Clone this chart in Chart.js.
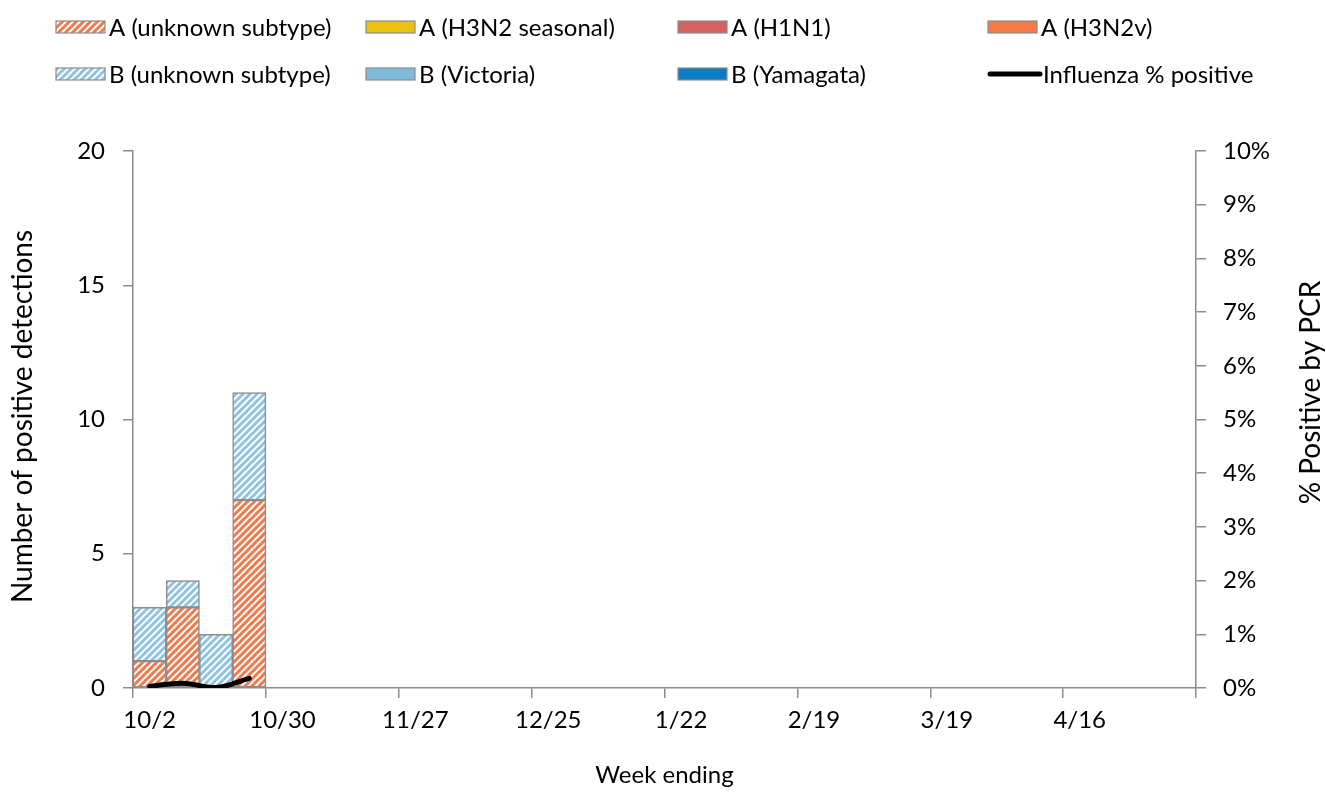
<!DOCTYPE html>
<html><head><meta charset="utf-8">
<script src="https://cdn.jsdelivr.net/npm/chart.js@4.4.1/dist/chart.umd.min.js"></script>
<style>html,body{margin:0;padding:0;background:#fff;}#wrap{width:1326px;height:796px;position:relative;}</style>
</head><body><div id="wrap"><canvas id="c"></canvas></div>
<script>
const weeks = ['10/2','10/9','10/16','10/23','10/30','11/6','11/13','11/20','11/27','12/4','12/11','12/18','12/25','1/1','1/8','1/15','1/22','1/29','2/5','2/12','2/19','2/26','3/5','3/12','3/19','3/26','4/2','4/9','4/16','4/23','4/30','5/7'];
const N = null;
const aUnknown   = [1,3,0,7, N,N,N,N,N,N,N,N,N,N,N,N,N,N,N,N,N,N,N,N,N,N,N,N,N,N,N,N];
const aH3N2      = [0,0,0,0, N,N,N,N,N,N,N,N,N,N,N,N,N,N,N,N,N,N,N,N,N,N,N,N,N,N,N,N];
const aH1N1      = [0,0,0,0, N,N,N,N,N,N,N,N,N,N,N,N,N,N,N,N,N,N,N,N,N,N,N,N,N,N,N,N];
const aH3N2v     = [0,0,0,0, N,N,N,N,N,N,N,N,N,N,N,N,N,N,N,N,N,N,N,N,N,N,N,N,N,N,N,N];
const bUnknown   = [2,1,2,4, N,N,N,N,N,N,N,N,N,N,N,N,N,N,N,N,N,N,N,N,N,N,N,N,N,N,N,N];
const bVictoria  = [0,0,0,0, N,N,N,N,N,N,N,N,N,N,N,N,N,N,N,N,N,N,N,N,N,N,N,N,N,N,N,N];
const bYamagata  = [0,0,0,0, N,N,N,N,N,N,N,N,N,N,N,N,N,N,N,N,N,N,N,N,N,N,N,N,N,N,N,N];
const pctPositive = [0.03,0.09,0.01,0.18, N,N,N,N,N,N,N,N,N,N,N,N,N,N,N,N,N,N,N,N,N,N,N,N,N,N,N,N];
const leftTicks = [0,5,10,15,20];
const rightTicks = [0,1,2,3,4,5,6,7,8,9,10];
const leftTitle = 'Number of positive detections';
const rightTitle = '% Positive by PCR';

const FONT = 'Lato';
const GRAY = '#8c8c8c';

function hatch(color){
  const s=7; const c=document.createElement('canvas'); c.width=s; c.height=s;
  const g=c.getContext('2d');
  g.fillStyle='#fff'; g.fillRect(0,0,s,s);
  g.strokeStyle=color; g.lineWidth=3; g.lineCap='square';
  g.beginPath();
  g.moveTo(-3,s+3); g.lineTo(s+3,-3);
  g.moveTo(-3,3); g.lineTo(3,-3);
  g.moveTo(s-3,s+3); g.lineTo(s+3,s-3);
  g.stroke();
  return g.createPattern(c,'repeat');
}
const orangeHatch = hatch('#f4794a');
const blueHatch = hatch('#8ec3e1');

function bar(label, data, fill){
  return {type:'bar', label, data, backgroundColor: fill, borderColor: GRAY, borderWidth: 1.5,
    borderSkipped:false, barPercentage:1, categoryPercentage:1, yAxisID:'y', stack:'s', order:1};
}

const datasets = [
  bar('A (unknown subtype)', aUnknown, orangeHatch),
  bar('A (H3N2 seasonal)', aH3N2, '#e9c10e'),
  bar('A (H1N1)', aH1N1, '#d65f61'),
  bar('A (H3N2v)', aH3N2v, '#f47a48'),
  bar('B (unknown subtype)', bUnknown, blueHatch),
  bar('B (Victoria)', bVictoria, '#80badb'),
  bar('B (Yamagata)', bYamagata, '#0b7bc3'),
  {type:'line', label:'Influenza % positive', data: pctPositive, yAxisID:'y2', borderColor:'#000',
   borderWidth:5, pointRadius:0, tension:0.4, borderCapStyle:'round', order:0, spanGaps:false}
];

const legendPlugin = {
  id:'customLegend',
  afterDraw(chart){
    const ctx = chart.ctx;
    const cols = [56, 366, 678, 988];
    const rows = [27, 74];
    ctx.save();
    ctx.font = '24px ' + FONT;
    ctx.textBaseline = 'middle';
    ctx.fillStyle = '#000';
    chart.data.datasets.forEach((ds, i) => {
      const x = cols[i % 4], y = rows[Math.floor(i / 4)];
      if (ds.type === 'line') {
        ctx.strokeStyle = '#000'; ctx.lineWidth = 5; ctx.lineCap = 'round';
        ctx.beginPath(); ctx.moveTo(x + 2, y); ctx.lineTo(x + 52, y); ctx.stroke();
        ctx.fillStyle = '#000';
        ctx.fillText(ds.label, x + 55, y + 1);
      } else {
        ctx.fillStyle = ds.backgroundColor;
        ctx.fillRect(x, y - 6, 49, 12);
        ctx.strokeStyle = GRAY; ctx.lineWidth = 1.2;
        ctx.strokeRect(x, y - 6, 49, 12);
        ctx.fillStyle = '#000';
        ctx.fillText(ds.label, x + 53, y + 1);
      }
    });
    // vertical axis titles, both reading bottom-to-top
    const ca = chart.chartArea;
    ctx.font = '28px ' + FONT;
    ctx.textAlign = 'center';
    ctx.fillStyle = '#000';
    ctx.save();
    ctx.translate(23, (ca.top + ca.bottom) / 2 - 3);
    ctx.rotate(-Math.PI / 2);
    ctx.fillText(leftTitle, 0, 0);
    ctx.restore();
    ctx.save();
    ctx.translate(1311, (ca.top + ca.bottom) / 2 - 27);
    ctx.rotate(-Math.PI / 2);
    ctx.fillText(rightTitle, 0, 0);
    ctx.restore();
    ctx.restore();
  }
};

new Chart(document.getElementById('c'), {
  data: { labels: weeks, datasets },
  plugins: [legendPlugin],
  options: {
    responsive: true, maintainAspectRatio: false, animation: false,
    layout: { padding: { top: 151, left: 0, right: 0, bottom: 0 } },
    plugins: { legend: { display: false }, tooltip: { enabled: false } },
    scales: {
      x: {
        type: 'category', offset: true, stacked: true,
        afterFit: s => { s.height = 108; },
        grid: { offset: true, drawOnChartArea: false, drawTicks: true, tickLength: 10, lineWidth: 1.5,
          color: ctx => (ctx.type !== 'tick' || ctx.index % 4 === 0) ? GRAY : 'rgba(0,0,0,0)' },
        border: { display: true, color: GRAY, width: 1.5 },
        ticks: { autoSkip: false, maxRotation: 0, minRotation: 0, padding: 8, color: '#000',
          font: { family: FONT, size: 24 },
          callback: function(v, i){ return i % 4 === 0 ? this.getLabelForValue(v) : ''; } },
        title: { display: true, text: 'Week ending', color: '#000', font: { family: FONT, size: 24 }, padding: { top: 0, bottom: 6 } }
      },
      y: {
        position: 'left', stacked: true, min: 0, max: 20,
        afterFit: s => { s.width = 133; },
        afterBuildTicks: s => { s.ticks = leftTicks.map(v => ({ value: v })); },
        grid: { drawOnChartArea: false, drawTicks: true, tickLength: 10, color: GRAY, lineWidth: 1.5 },
        border: { display: true, color: GRAY, width: 1.5 },
        ticks: { padding: 18, color: '#000', font: { family: FONT, size: 24 } },
        title: { display: false }
      },
      y2: {
        position: 'right', min: 0, max: 10,
        afterFit: s => { s.width = 130; },
        afterBuildTicks: s => { s.ticks = rightTicks.map(v => ({ value: v })); },
        grid: { drawOnChartArea: false, drawTicks: true, tickLength: 10, color: GRAY, lineWidth: 1.5 },
        border: { display: true, color: GRAY, width: 1.5 },
        ticks: { padding: 17, color: '#000', font: { family: FONT, size: 24 }, callback: v => v + '%' },
        title: { display: false }
      }
    }
  }
});
</script>
</body></html>
